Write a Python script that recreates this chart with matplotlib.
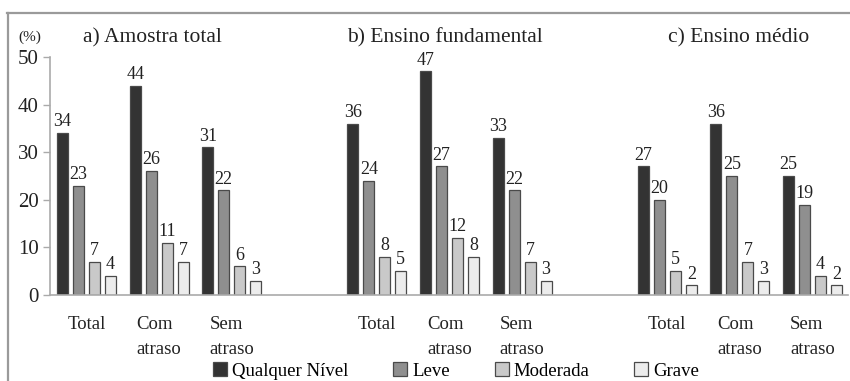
import matplotlib
matplotlib.use("Agg")
import matplotlib.pyplot as plt
from matplotlib.lines import Line2D
import numpy as np

plt.rcParams['font.family'] = ['Liberation Serif', 'DejaVu Serif']

panels = ["a) Amostra total", "b) Ensino fundamental", "c) Ensino médio"]
categories = ["Total", "Com\natraso", "Sem\natraso"]
series = ["Qualquer Nível", "Leve", "Moderada", "Grave"]
colors = ["#333333", "#8f8f8f", "#c9c9c9", "#ececec"]

qualquer = [34, 44, 31, 36, 47, 33, 27, 36, 25]
leve     = [23, 26, 22, 24, 27, 22, 20, 25, 19]
moderada = [7, 11, 6, 8, 12, 7, 5, 7, 4]
grave    = [4, 7, 3, 5, 8, 3, 2, 3, 2]
values = [qualquer, leve, moderada, grave]

slots = [0, 1, 2, 4, 5, 6, 8, 9, 10]
offset = 0.22
width = 0.152

fig = plt.figure(figsize=(8.5, 3.81), dpi=100)
W, H = 850, 381
ax = fig.add_axes([50 / W, 86 / H, (848 - 50) / W, (295 - 57) / H])

for k, (vals, col, name) in enumerate(zip(values, colors, series)):
    xs = np.array(slots) + (k - 1.5) * offset
    ax.bar(xs, vals, width=width, color=col, edgecolor="#4a4a4a",
           linewidth=0.9, label=name, zorder=2)
    for x, v in zip(xs, vals):
        ax.annotate(str(v), (x, v), xytext=(0, 2), textcoords="offset points",
                    ha="center", va="bottom", fontsize=13, color="#222222")

ax.set_xlim(-0.503, 10.489)
ax.set_ylim(0, 50)
ax.set_yticks([0, 10, 20, 30, 40, 50])
ax.set_xticks(slots)
ax.set_xticklabels(categories * 3, fontsize=13.5, linespacing=1.6)
for lbl in ax.get_xticklabels():
    lbl.set_multialignment("left")
ax.tick_params(axis="x", length=0, pad=15, colors="#222222")
ax.tick_params(axis="y", length=5, width=1, color="#aaaaaa", pad=3,
               labelsize=15, labelcolor="#222222")
for s in ["top", "right"]:
    ax.spines[s].set_visible(False)
for s in ["left", "bottom"]:
    ax.spines[s].set_color("#aaaaaa")
    ax.spines[s].set_linewidth(1.2)

# panel titles
title_x = [0.91, 4.94, 8.98]
for t, x in zip(panels, title_x):
    ax.text(x, 1 - 42 / H, t, transform=matplotlib.transforms.blended_transform_factory(ax.transData, fig.transFigure),
            ha="center", va="baseline", fontsize=15.5, color="#222222")

# (%) label
fig.text(18 / W, 1 - 37 / H, "(%)", fontsize=11, color="#222222", va="center")

# frame lines
fig.add_artist(Line2D([7 / W, 1], [1 - 12.5 / H, 1 - 12.5 / H], color="#9a9a9a", lw=1.6))
fig.add_artist(Line2D([7.5 / W, 7.5 / W], [0, 1 - 12.5 / H], color="#9a9a9a", lw=1.6))

leg = fig.legend(loc="center", bbox_to_anchor=(456 / W, 1 - 371 / H), ncol=4,
                 frameon=False, fontsize=13.5, handlelength=0.75,
                 handleheight=0.75, handletextpad=0.25, columnspacing=2.4,
                 borderpad=0)

fig.savefig("out.png", dpi=100)
